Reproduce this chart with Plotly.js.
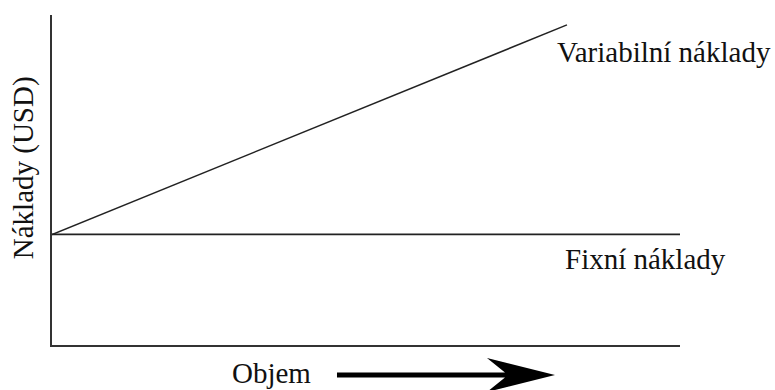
<!DOCTYPE html>
<html>
<head>
<meta charset="utf-8">
<script src="https://cdn.plot.ly/plotly-3.0.1.min.js"></script>
<style>
  html, body { margin: 0; padding: 0; background: #fff; }
  #chart { width: 775px; height: 390px; }
</style>
</head>
<body>
<div id="chart"></div>
<script>
// ---- data ----
const seriesNames = ["Variabilní náklady", "Fixní náklady"];
const fixedVolume = [0, 100];
const fixedCost = [3.35, 3.35];
const variableVolume = [0, 82];
const variableCost = [3.35, 9.7];
const xAxisLabel = "Objem";
const yAxisLabel = "Náklady (USD)";

function txt() { return { family: "Liberation Serif", size: 29, color: "#111" }; }
const INK = "#222";

const traces = [
  { x: variableVolume, y: variableCost, name: seriesNames[0], mode: "lines",
    line: { color: INK, width: 1.5 }, showlegend: false, hoverinfo: "skip" },
  { x: fixedVolume, y: fixedCost, name: seriesNames[1], mode: "lines",
    line: { color: INK, width: 1.8 }, showlegend: false, hoverinfo: "skip" }
];

const layout = {
  width: 775, height: 390,
  margin: { l: 52, r: 95, t: 15, b: 45 },
  paper_bgcolor: "#fff", plot_bgcolor: "#fff",
  xaxis: { range: [0, 100], showline: true, linecolor: "#333", linewidth: 2,
           showgrid: false, zeroline: false, showticklabels: false, ticks: "" },
  yaxis: { range: [0, 10], showline: true, linecolor: "#333", linewidth: 2,
           showgrid: false, zeroline: false, showticklabels: false, ticks: "" },
  annotations: [
    { text: seriesNames[0], font: txt(), xref: "paper", yref: "paper", x: 0.801, y: 0.888,
      xanchor: "left", yanchor: "middle", showarrow: false },
    { text: seriesNames[1], font: txt(), xref: "paper", yref: "paper", x: 0.814, y: 0.262,
      xanchor: "left", yanchor: "middle", showarrow: false },
    { text: xAxisLabel, font: txt(), xref: "paper", yref: "paper", x: 0.283, y: -0.085,
      xanchor: "left", yanchor: "middle", showarrow: false },
    { text: yAxisLabel, font: txt(), xref: "paper", yref: "paper", x: -0.046, y: 0.536,
      xanchor: "center", yanchor: "middle", textangle: -90, showarrow: false }
  ],
  shapes: [
    { type: "path", xref: "paper", yref: "paper",
      xsizemode: "pixel", ysizemode: "pixel",
      xanchor: 0.4538, yanchor: -0.0909,
      path: "M0,2.5 L168,2.5 L150,17 L218,0 L150,-17 L168,-2.5 L0,-2.5 Z",
      fillcolor: "#000", line: { width: 0 } }
  ]
};

Plotly.newPlot("chart", traces, layout, { displayModeBar: false, staticPlot: true });
</script>
</body>
</html>
